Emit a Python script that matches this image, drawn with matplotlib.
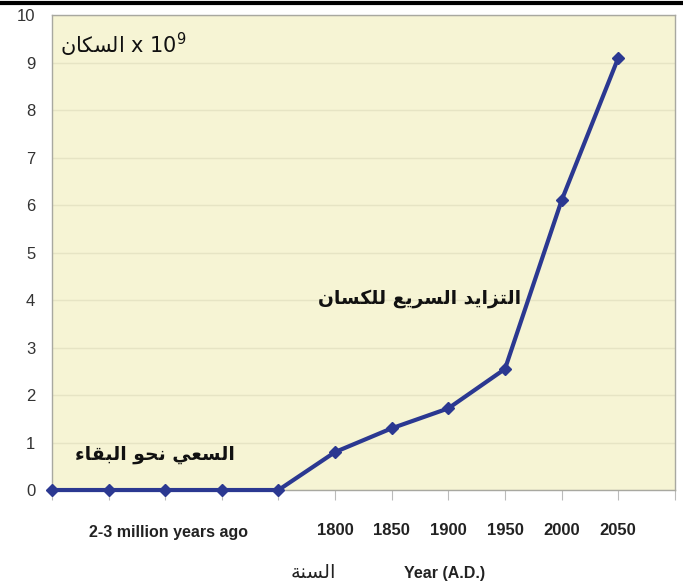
import matplotlib
matplotlib.use("Agg")
import matplotlib.pyplot as plt
from matplotlib.lines import Line2D
import matplotlib.transforms as mtransforms

# --- data ---
year_labels = ["", "", "", "", "", "1800", "1850", "1900", "1950", "2000", "2050"]
population = [0, 0, 0, 0, 0, 0.8, 1.3, 1.72, 2.55, 6.1, 9.1]
y_ticks = list(range(0, 11))

label_pop = "السكان"
label_survival = "السعي نحو البقاء"
label_growth = "التزايد السريع للكسان"
label_year_ar = "السنة"
label_year_en = "Year (A.D.)"
label_ancient = "2-3 million years ago"

# matplotlib has no Arabic shaping, so pick presentation forms by hand
# forms: isolated, final, initial, medial (None -> letter does not join forward)
FORMS = {
    "ا": ("\uFE8D", "\uFE8E", None, None),
    "ل": ("\uFEDD", "\uFEDE", "\uFEDF", "\uFEE0"),
    "س": ("\uFEB1", "\uFEB2", "\uFEB3", "\uFEB4"),
    "ك": ("\uFED9", "\uFEDA", "\uFEDB", "\uFEDC"),
    "ن": ("\uFEE5", "\uFEE6", "\uFEE7", "\uFEE8"),
    "ة": ("\uFE93", "\uFE94", None, None),
    "ع": ("\uFEC9", "\uFECA", "\uFECB", "\uFECC"),
    "ي": ("\uFEF1", "\uFEF2", "\uFEF3", "\uFEF4"),
    "ح": ("\uFEA1", "\uFEA2", "\uFEA3", "\uFEA4"),
    "و": ("\uFEED", "\uFEEE", None, None),
    "ب": ("\uFE8F", "\uFE90", "\uFE91", "\uFE92"),
    "ق": ("\uFED5", "\uFED6", "\uFED7", "\uFED8"),
    "ء": ("\uFE80", None, None, None),
    "ت": ("\uFE95", "\uFE96", "\uFE97", "\uFE98"),
    "ز": ("\uFEAF", "\uFEB0", None, None),
    "د": ("\uFEA9", "\uFEAA", None, None),
    "ر": ("\uFEAD", "\uFEAE", None, None),
}


def joins_next(ch):
    return ch in FORMS and FORMS[ch][2] is not None


def joins_prev(ch):
    return ch in FORMS and FORMS[ch][1] is not None


def shape(text):
    out = []
    for i, ch in enumerate(text):
        if ch not in FORMS:
            out.append(ch)
            continue
        prev = text[i - 1] if i > 0 else ""
        nxt = text[i + 1] if i + 1 < len(text) else ""
        p = joins_next(prev) and joins_prev(ch)
        n = joins_next(ch) and joins_prev(nxt)
        iso, fin, ini, med = FORMS[ch]
        if p and n:
            out.append(med)
        elif p:
            out.append(fin)
        elif n:
            out.append(ini)
        else:
            out.append(iso)
    return "".join(out)[::-1]


latin = ["Liberation Sans", "DejaVu Sans"]
arabic = ["DejaVu Sans"]

line_color = "#2b3891"
bg_color = "#f6f4d4"

fig = plt.figure(figsize=(6.83, 5.87), dpi=100)
ax = fig.add_axes([0.0761, 0.1652, 0.912, 0.809])
ax.set_facecolor(bg_color)

x = list(range(len(population)))
ax.plot(x, population, color=line_color, lw=3, marker="D", ms=6.5,
        clip_on=False, zorder=5)

ax.set_xlim(0, 11)
ax.set_ylim(0, 10)
ax.set_yticks(y_ticks)
ax.set_yticklabels([str(v) for v in y_ticks], family=latin, fontsize=12,
                   color="#333333")
ax.tick_params(axis="y", length=0, pad=12)
ax.set_xticks(range(0, 12))
ax.set_xticklabels([])
ax.tick_params(axis="x", length=7, color="#bbbbbb", direction="out")
ax.grid(axis="y", color="#e6e4c4", lw=1)
ax.set_axisbelow(True)
for s in ax.spines.values():
    s.set_color("#a8a8a0")
    s.set_linewidth(1)

# labels under the axis
trans = mtransforms.blended_transform_factory(ax.transData, ax.transAxes)
for i, lab in enumerate(year_labels):
    if lab:
        ax.text(i, -0.086, lab, transform=trans, ha="center", va="center",
                family=latin, fontsize=12, fontweight="bold", color="#222222")
ax.text(2.05, -0.09, label_ancient, transform=trans, ha="center", va="center",
        family=latin, fontsize=11.5, fontweight="bold", color="#222222")
ax.text(4.61, -0.173, shape(label_year_ar), transform=trans, ha="center",
        va="center", family=arabic, fontsize=14, color="#222222")
ax.text(6.94, -0.175, label_year_en, transform=trans, ha="center",
        va="center", family=latin, fontsize=11.5, fontweight="bold",
        color="#222222")

# annotations inside the plot
ax.text(0.14, 9.37, shape(label_pop) + " x 10$^{9}$", ha="left", va="center",
        family=arabic, fontsize=15, color="#111111")
ax.text(1.82, 0.74, shape(label_survival), ha="center", va="center",
        family=arabic, fontsize=13.5, fontweight="bold", color="#111111")
ax.text(6.5, 4.04, shape(label_growth), ha="center", va="center",
        family=arabic, fontsize=13.5, fontweight="bold", color="#111111")

# black rule along the top of the page
fig.add_artist(Line2D([0, 1], [0.995, 0.995], color="black", lw=3,
                      transform=fig.transFigure))

fig.savefig("out.png", dpi=100, facecolor="white")
